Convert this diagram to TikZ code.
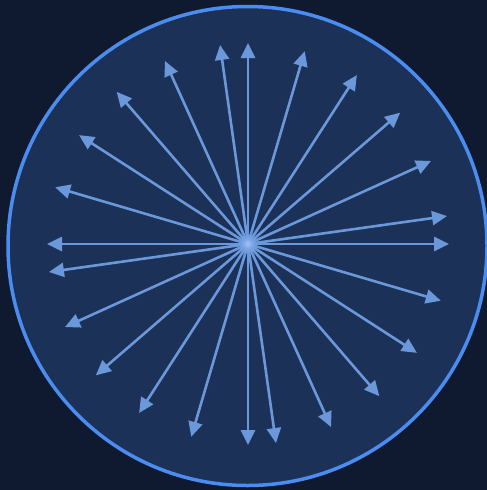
\documentclass[tikz,border=0pt]{standalone}
\usetikzlibrary{arrows.meta,calc}
\definecolor{bgc}{HTML}{0F1A30}
\definecolor{disc}{HTML}{1C3157}
\definecolor{rim}{HTML}{4A8CF0}
\definecolor{ray}{HTML}{6B98DB}
\definecolor{glow}{HTML}{A8C8FF}
\tikzset{
  rayarrow/.style={draw=ray, line width=2.6pt, -{Triangle[length=15pt,width=14pt]}},
}
\begin{document}
\begin{tikzpicture}[x=1pt,y=-1pt]
\fill[bgc] (0,0) rectangle (487,490);
\useasboundingbox (0,0) rectangle (487,490);
\draw[fill=disc, draw=rim, line width=3.5pt] (247.5,246) circle (239.5);
\coordinate (c) at (248,244);
\foreach \q in {0,90,180,270}{
  \foreach \a [count=\i] in {0,8,24.4,40.8,57.2,73.6}{
    \pgfmathsetmacro{\ang}{\q+\a}
    \coordinate (t-\q-\i) at ($(c)+(-\ang:201)$);
    \draw[rayarrow] (c) -- (t-\q-\i);
  }
}
\foreach \r/\o in {9/0.12,6/0.2,4/0.3,2.5/0.45}{
  \fill[glow, opacity=\o] (c) circle (\r);
}
\end{tikzpicture}
\end{document}
